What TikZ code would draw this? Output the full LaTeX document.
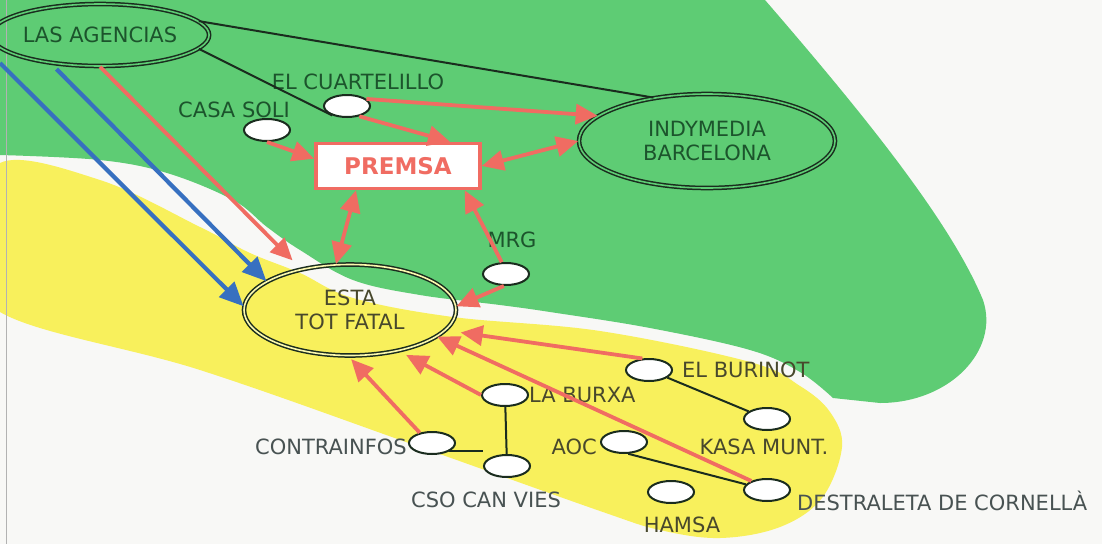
\documentclass[tikz,border=0pt]{standalone}
\usepackage{fontspec}
\setmainfont{DejaVu Sans}
\usetikzlibrary{positioning,arrows.meta,shapes.geometric}
\definecolor{greenbg}{RGB}{94,204,116}
\definecolor{yellowbg}{RGB}{248,240,92}
\definecolor{paper}{RGB}{248,248,246}
\definecolor{linkred}{RGB}{240,108,98}
\definecolor{linkblue}{RGB}{55,112,192}
\definecolor{darkgreen}{RGB}{28,84,44}
\definecolor{darkolive}{RGB}{72,72,44}
\definecolor{darkgrey}{RGB}{72,82,82}
\definecolor{outline}{RGB}{26,44,30}
\tikzset{
    collective/.style = {ellipse, draw=outline, double=#1, line width=1.5pt,
        double distance=1.6pt, align=center, inner sep=0pt, text=darkgreen},
    site/.style = {ellipse, draw=outline, fill=white, line width=2pt,
        minimum width=46pt, minimum height=22pt, inner sep=0pt},
    tag/.style = {inner sep=0pt, text=darkgreen},
    press/.style = {draw=linkred, fill=white, line width=3.5pt,
        minimum width=164pt, minimum height=45pt, text=linkred,
        font=\fontsize{23}{26}\selectfont\bfseries},
    feed/.style = {draw=linkred, line width=3.8pt, -{Triangle[length=22pt,width=20pt]}},
    mutual/.style = {draw=linkred, line width=3.8pt,
        {Triangle[length=22pt,width=20pt]}-{Triangle[length=22pt,width=20pt]}},
    wire/.style = {draw=outline, line width=2pt},
    source/.style = {draw=linkblue, line width=4.2pt, -{Triangle[length=24pt,width=21pt]}}
}

\begin{document}
\begin{tikzpicture}[x=1pt, y=-1pt, font=\fontsize{21}{24}\selectfont]
    \useasboundingbox (0,0) rectangle (1102,544);
    \fill [paper] (0,0) rectangle (1102,544);
    % zones
    \fill [greenbg] (0,0) -- (765,0) .. controls (860,110) and (950,220) .. (983,300)
        .. controls (1000,350) and (950,403) .. (880,403)
        -- plot [smooth, tension=0.6] coordinates {(833,398) (800,372) (750,350) (650,328)
        (550,312) (500,305) (420,295) (353,280) (300,250) (267,227) (233,200)
        (167,173) (100,160) (0,155)} -- cycle;
    \fill [yellowbg] plot [smooth cycle, tension=0.6] coordinates {(0,163) (100,180)
        (200,227) (250,253) (300,273) (353,298) (453,317) (600,331) (750,362)
        (800,386) (830,412) (842,447) (822,498) (780,527) (720,538) (660,530)
        (600,511) (420,447) (200,370) (0,312) (-20,240)};
    \draw [gray!60, line width=0.8pt] (6,0) -- (6,544);

    \node [collective=greenbg, minimum width=186pt, minimum height=62pt] (agencias) at (100,35) {LAS AGENCIAS};
    \node [collective=greenbg, minimum width=256pt, minimum height=94pt] (indy) at (707,141) {INDYMEDIA\\BARCELONA};
    \node [press] (premsa) at (398,166) {PREMSA};
    \node [collective=yellowbg!50!white, text=darkolive, minimum width=212pt, minimum height=91pt] (esta) at (350,310) {ESTA\\TOT FATAL};

    \node [site] (soli) at (267,130) {};
    \node [site] (cuart) at (347,106) {};
    \node [site] (mrg) at (506,274) {};
    \node [site] (burxa) at (505,395) {};
    \node [site] (burinot) at (649,370) {};
    \node [site] (kasa) at (767,419) {};
    \node [site] (aoc) at (624,442) {};
    \node [site] (hamsa) at (671,492) {};
    \node [site] (destr) at (767,490) {};
    \node [site] (contra) at (432,443) {};
    \node [site] (cso) at (507,466) {};

    \node [tag, above=0pt of soli, xshift=-33pt] (soli-l) {CASA SOLI};
    \node [tag, above=4pt of cuart, xshift=11pt] (cuart-l) {EL CUARTELILLO};
    \node [tag, above=14pt of mrg, xshift=6pt] (mrg-l) {MRG};
    \node [tag, text=darkolive, right=0pt of burxa] (burxa-l) {LA BURXA};
    \node [tag, text=darkolive, right=9pt of burinot] (burinot-l) {EL BURINOT};
    \node [tag, text=darkolive, below=8pt of kasa, xshift=-3pt] (kasa-l) {KASA MUNT.};
    \node [tag, text=darkolive, left=3pt of aoc, yshift=-5pt] (aoc-l) {AOC};
    \node [tag, text=darkolive, below=13pt of hamsa, xshift=11pt] (hamsa-l) {HAMSA};
    \node [tag, text=darkgrey, right=6pt of destr, yshift=-11pt] (destr-l) {DESTRALETA DE CORNELLÀ};
    \node [tag, text=darkgrey, left=1pt of contra, yshift=-4pt] (contra-l) {CONTRAINFOS};
    \node [tag, text=darkgrey, below=14pt of cso, xshift=-21pt] (cso-l) {CSO CAN VIES};

    \draw [wire] (agencias.8) -- (indy.141);
    \draw [wire] (agencias.-8) -- (cuart.213);
    \draw [wire] (burxa) -- (cso);
    \draw [wire] (contra.south east) -- (contra.south east -| cso.west);
    \draw [wire] (burinot) -- (kasa);
    \draw [wire] (aoc.-70) -- (destr.165);

    \coordinate (offpage) at (0,63);
    \draw [source] (offpage) -- (esta.178);
    \draw [source, shorten <=8pt] (agencias.-150) -- (esta.161);

    \draw [feed, shorten >=12pt] (agencias.south) -- (esta.140);
    \draw [feed] (soli.south) -- (premsa.175);
    \draw [feed] (cuart.-40) -- (premsa.25);
    \draw [feed] (cuart.20) -- (indy.167);
    \draw [mutual] (premsa.east) -- (indy.west);
    \draw [mutual] (premsa.-150) -- (esta.107);
    \draw [feed] (mrg.110) -- (premsa.-20);
    \draw [feed] (mrg.-100) -- (esta.2);
    \draw [feed, shorten >=15pt] (burinot.120) -- (esta.-12);
    \draw [feed] (destr.150) -- (esta.-17);
    \draw [feed, shorten >=8pt] (burxa.west) -- (esta.-40);
    \draw [feed, shorten >=4pt] (contra.140) -- (esta.-92);
\end{tikzpicture}
\end{document}
